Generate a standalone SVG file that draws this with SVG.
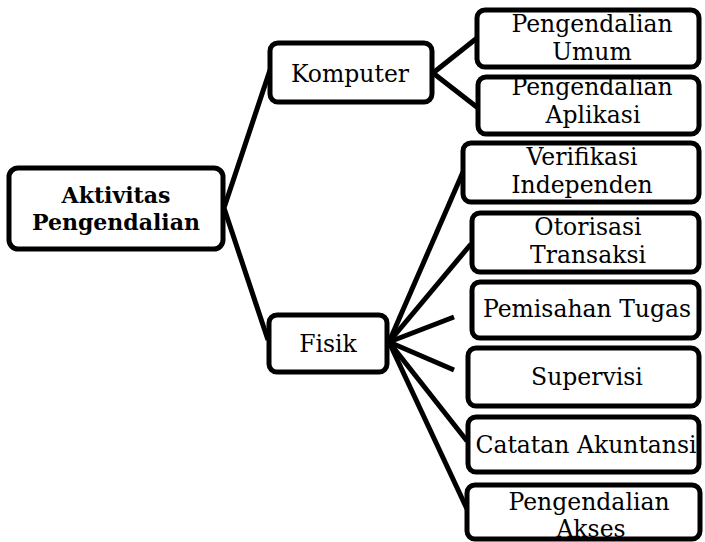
<svg xmlns="http://www.w3.org/2000/svg" width="705" height="542" viewBox="0 0 705 542">
  <style>
    .box { fill: #ffffff; stroke: #000000; stroke-width: 5; }
    .link { fill: none; stroke: #000000; stroke-width: 5; stroke-linejoin: round; }
    text { font-family: "DejaVu Serif", "Liberation Serif", serif; font-size: 23.5px; fill: #000000; text-anchor: middle; }
    .bold { font-weight: bold; font-size: 22px; }
  </style>
  <rect width="705" height="542" fill="#ffffff"/>

  <!-- connectors -->
  <g id="connectors">
    <polyline class="link" points="270,70 224,208 268,340"/>
    <polyline class="link" points="477,38 433,73 478,108"/>
    <g>
      <line class="link" x1="389" y1="342" x2="463" y2="172"/>
      <line class="link" x1="389" y1="342" x2="471" y2="244"/>
      <line class="link" x1="389" y1="342" x2="454" y2="317"/>
      <line class="link" x1="389" y1="342" x2="454" y2="370"/>
      <line class="link" x1="389" y1="342" x2="467" y2="441"/>
      <line class="link" x1="389" y1="342" x2="467" y2="509"/>
    </g>
  </g>

  <!-- root -->
  <g id="aktivitas-pengendalian">
    <rect class="box" x="9" y="168" width="214" height="81" rx="9"/>
    <text class="bold" x="116" y="203">Aktivitas</text>
    <text class="bold" x="116" y="230">Pengendalian</text>
  </g>

  <!-- second level -->
  <g id="komputer">
    <rect class="box" x="270" y="43" width="162" height="59" rx="8"/>
    <text x="350" y="82">Komputer</text>
  </g>
  <g id="fisik">
    <rect class="box" x="269" y="315" width="118" height="57" rx="8"/>
    <text x="328" y="352">Fisik</text>
  </g>

  <!-- leaves under Komputer -->
  <g id="pengendalian-umum">
    <rect class="box" x="477" y="10" width="222" height="57" rx="8"/>
    <text x="592" y="32">Pengendalian</text>
    <text x="592" y="60">Umum</text>
  </g>
  <g id="pengendalian-aplikasi">
    <rect class="box" x="478" y="77" width="221" height="57" rx="8"/>
    <text x="592" y="95">Pengendalian</text>
    <text x="593" y="123">Aplikasi</text>
  </g>

  <!-- leaves under Fisik -->
  <g id="verifikasi-independen">
    <rect class="box" x="463" y="143" width="236" height="59" rx="8"/>
    <text x="582" y="165">Verifikasi</text>
    <text x="582" y="193">Independen</text>
  </g>
  <g id="otorisasi-transaksi">
    <rect class="box" x="472" y="213" width="227" height="59" rx="8"/>
    <text x="588" y="235">Otorisasi</text>
    <text x="588" y="263">Transaksi</text>
  </g>
  <g id="pemisahan-tugas">
    <rect class="box" x="472" y="282" width="227" height="56" rx="8"/>
    <text x="587" y="317">Pemisahan Tugas</text>
  </g>
  <g id="supervisi">
    <rect class="box" x="468" y="348" width="231" height="58" rx="8"/>
    <text x="587" y="385">Supervisi</text>
  </g>
  <g id="catatan-akuntansi">
    <rect class="box" x="468" y="417" width="231" height="55" rx="8"/>
    <text x="586" y="453">Catatan Akuntansi</text>
  </g>
  <g id="pengendalian-akses">
    <rect class="box" x="467" y="485" width="233" height="54" rx="8"/>
    <text x="589" y="510">Pengendalian</text>
    <text x="591" y="537">Akses</text>
  </g>
</svg>
